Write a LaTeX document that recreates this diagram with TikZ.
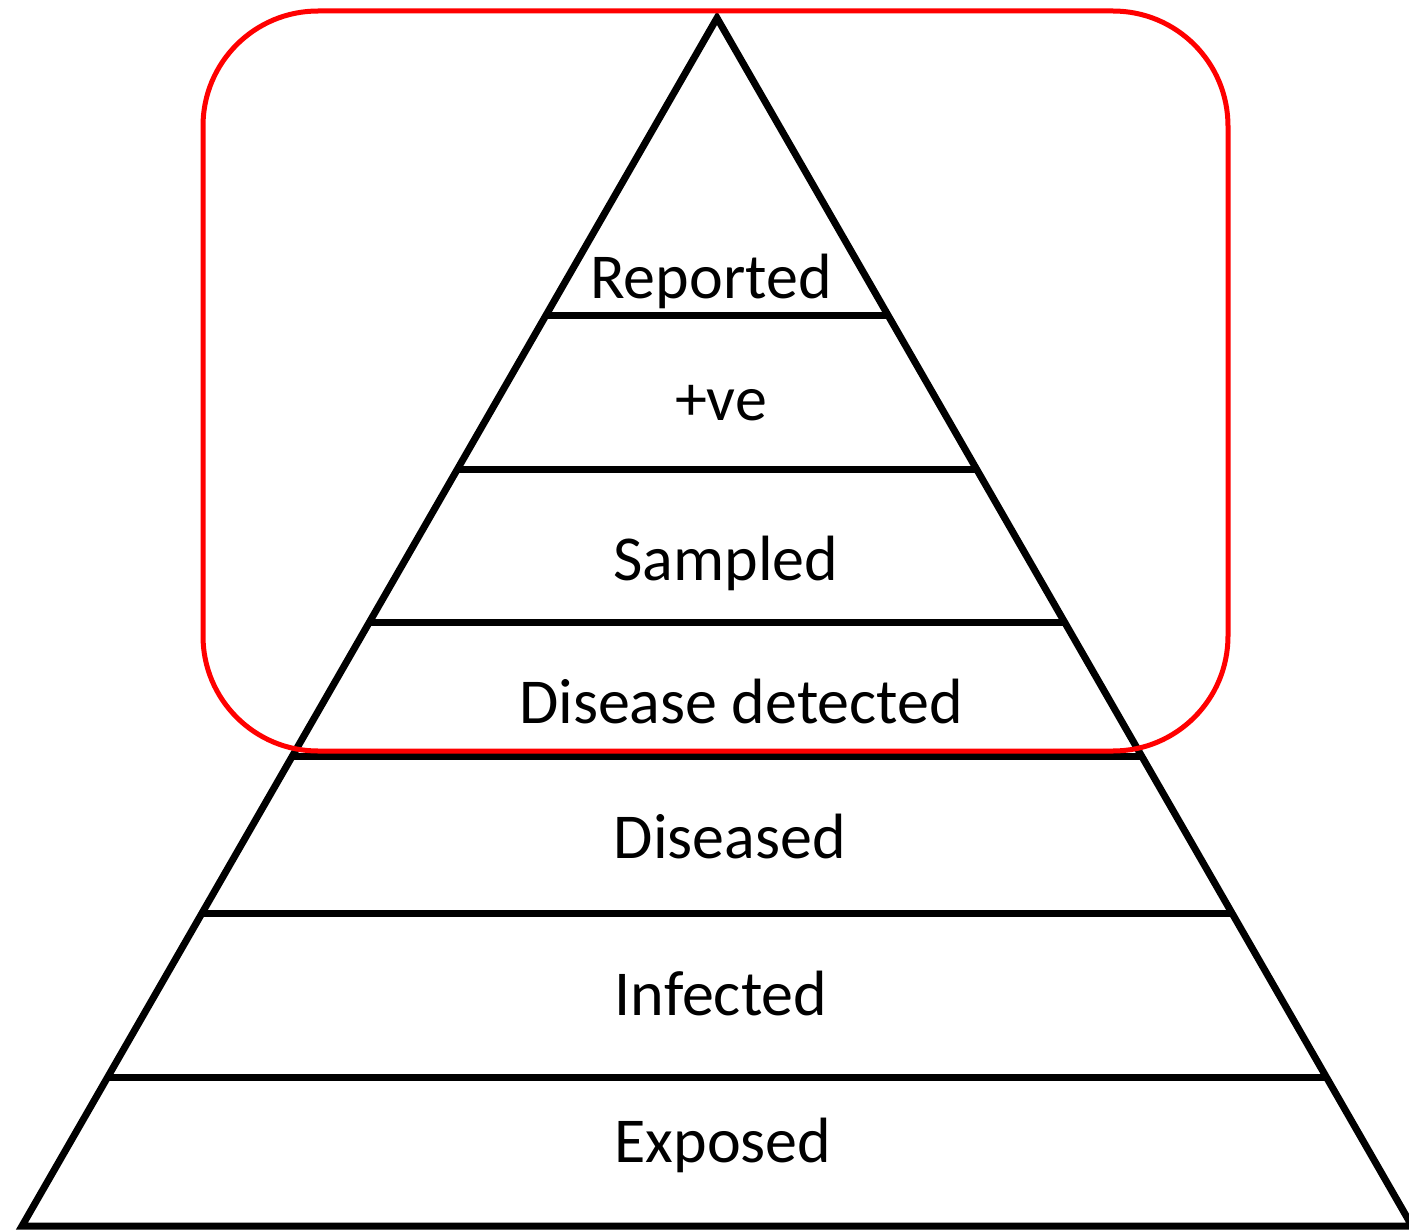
\documentclass[tikz,border=0pt]{standalone}
\usepackage{fontspec}
\setmainfont{Carlito}
\usetikzlibrary{calc}
\begin{document}
\begin{tikzpicture}[x=1pt,y=-1pt,
  edge/.style={draw=black,line width=7pt,line join=miter},
  band/.style={draw=black,line width=7pt},
  frame/.style={draw=red,line width=5pt,rounded corners=115pt},
  lbl/.style={anchor=base,inner sep=0pt,font=\fontsize{64}{76}\selectfont}]
\useasboundingbox (0,0) rectangle (1409,1231);
\begin{scope}
\clip (0,0) rectangle (1409,1231);
% pyramid corners
\coordinate (apex) at (717,18);
\coordinate (bl) at (22,1226);
\coordinate (br) at (1412,1226);
\draw[edge] (bl) -- (apex) -- (br) -- cycle;
% band lines
\coordinate (l1) at ($(apex)!{(316-18)/1208}!(bl)$);
\coordinate (r1) at ($(apex)!{(316-18)/1208}!(br)$);
\coordinate (l2) at ($(apex)!{(470-18)/1208}!(bl)$);
\coordinate (r2) at ($(apex)!{(470-18)/1208}!(br)$);
\coordinate (l3) at ($(apex)!{(622-18)/1208}!(bl)$);
\coordinate (r3) at ($(apex)!{(622-18)/1208}!(br)$);
\coordinate (l4) at ($(apex)!{(757-18)/1208}!(bl)$);
\coordinate (r4) at ($(apex)!{(757-18)/1208}!(br)$);
\coordinate (l5) at ($(apex)!{(914-18)/1208}!(bl)$);
\coordinate (r5) at ($(apex)!{(914-18)/1208}!(br)$);
\coordinate (l6) at ($(apex)!{(1077-18)/1208}!(bl)$);
\coordinate (r6) at ($(apex)!{(1077-18)/1208}!(br)$);
\draw[band] (l1) -- (r1);
\draw[band] (l2) -- (r2);
\draw[band] (l3) -- (r3);
\draw[band] (l4) -- (r4);
\draw[band] (l5) -- (r5);
\draw[band] (l6) -- (r6);
\end{scope}
% red frame
\draw[frame] (203,11) rectangle (1228,751);
% labels
\node[lbl] (reported) at (711,298) {Reported};
\node[lbl] (pos) at (721,420) {+ve};
\node[lbl] (sampled) at (726,580) {Sampled};
\node[lbl] (detected) at (741,723) {Disease detected};
\node[lbl] (diseased) at (730,858) {Diseased};
\node[lbl] (infected) at (721,1015) {Infected};
\node[lbl] (exposed) at (723,1162) {Exposed};
\end{tikzpicture}
\end{document}
